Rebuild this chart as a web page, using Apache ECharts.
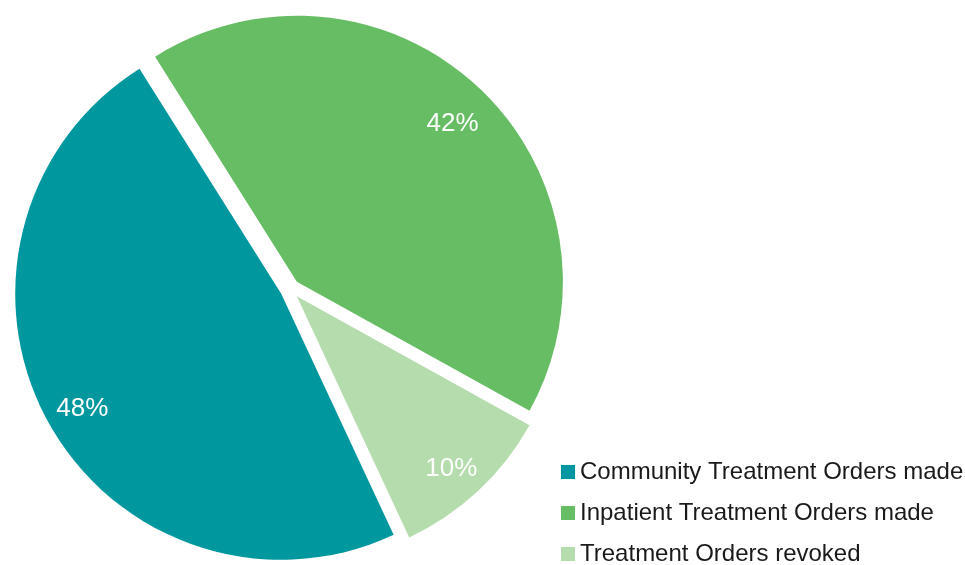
<!DOCTYPE html>
<html>
<head>
<meta charset="utf-8">
<script src="https://cdn.jsdelivr.net/npm/echarts@6/dist/echarts.min.js"></script>
<style>
  html, body { margin: 0; padding: 0; background: #ffffff; }
  #chart { width: 965px; height: 565px; }
</style>
</head>
<body>
<div id="chart"></div>
<script>
// Share of treatment orders
const categories = [
  'Community Treatment Orders made',
  'Inpatient Treatment Orders made',
  'Treatment Orders revoked'
];
const shares = [48, 42, 10];
const colors = ['#00979F', '#66BD63', '#B5DCAD'];

const R = 266;
const slices = categories.map((name, i) => ({
  name: name,
  value: shares[i],
  selected: true,
  itemStyle: { color: colors[i] }
}));

const common = {
  type: 'pie',
  center: [290, 289],
  startAngle: -65,
  clockwise: true,
  selectedMode: 'multiple',
  selectedOffset: 10,
  animation: false,
  emphasis: { disabled: true },
  labelLine: { show: false }
};

const chart = echarts.init(document.getElementById('chart'), null, { renderer: 'canvas' });
chart.setOption({
  backgroundColor: '#ffffff',
  legend: {
    orient: 'vertical',
    left: 561,
    top: 460,
    height: 140,
    padding: 0,
    icon: 'rect',
    itemWidth: 14,
    itemHeight: 14,
    itemGap: 17,
    selectedMode: false,
    data: categories.map((name, i) => ({ name: name, itemStyle: { color: colors[i] } })),
    textStyle: {
      fontFamily: 'Liberation Sans, Arial, sans-serif',
      fontSize: 24,
      lineHeight: 22,
      color: '#1a1a1a'
    }
  },
  series: [
    Object.assign({}, common, {
      name: 'slices',
      radius: [0, R],
      label: { show: false },
      data: slices
    }),
    // transparent ring that places the percentage labels near the rim
    Object.assign({}, common, {
      name: 'labels',
      silent: true,
      radius: [Math.round(R * 0.68), R],
      itemStyle: { color: 'rgba(0,0,0,0)' },
      label: {
        show: true,
        position: 'inside',
        formatter: '{c}%',
        color: '#ffffff',
        fontFamily: 'Liberation Sans, Arial, sans-serif',
        fontSize: 26
      },
      labelLayout: { dy: 7 },
      data: categories.map((name, i) => ({
        name: name,
        value: shares[i],
        selected: true,
        itemStyle: { color: 'rgba(0,0,0,0)' }
      }))
    })
  ]
});
</script>
</body>
</html>
